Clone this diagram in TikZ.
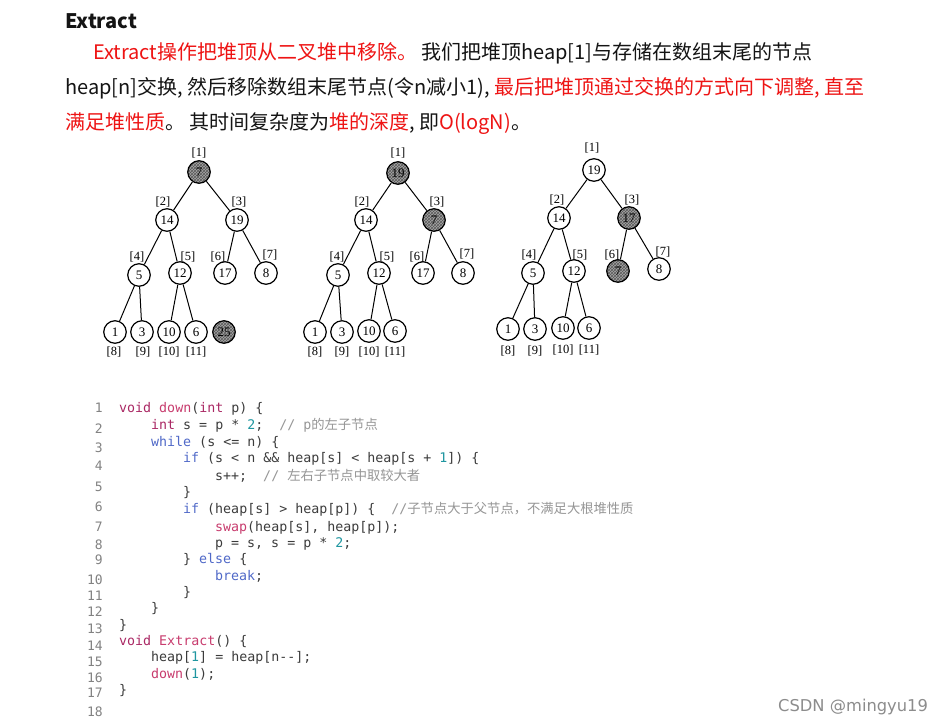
\documentclass[tikz,border=0pt]{standalone}
\usepackage{fontspec}
\setmainfont{Noto Sans CJK SC}
\setmonofont{DejaVu Sans Mono}
\newfontfamily\cjk{Noto Sans CJK SC}
\newfontfamily\treefont{Liberation Serif}
\newfontfamily\wmfont{DejaVu Sans}
\usetikzlibrary{patterns}
\definecolor{txtred}{RGB}{238,20,20}
\definecolor{bodyblack}{RGB}{20,20,20}
\definecolor{codefg}{RGB}{60,60,60}
\definecolor{kwa}{RGB}{170,40,100}
\definecolor{fna}{RGB}{200,60,110}
\definecolor{kwb}{RGB}{80,105,200}
\definecolor{numc}{RGB}{30,150,160}
\definecolor{cmtc}{RGB}{150,150,150}
\definecolor{lnogray}{RGB}{130,130,130}
\newcommand\ckw[1]{\textcolor{kwa}{#1}}
\newcommand\cfn[1]{\textcolor{fna}{#1}}
\newcommand\cbl[1]{\textcolor{kwb}{#1}}
\newcommand\cnum[1]{\textcolor{numc}{#1}}
\newcommand\ccm[1]{\textcolor{cmtc}{#1}}
\newcommand\rd[1]{\textcolor{txtred}{#1}}
\tikzset{
  hn/.style={circle, draw=black, line width=1.2pt, minimum size=22.5pt, inner sep=0pt, font=\treefont\fontsize{13}{13}\selectfont},
  hs/.style={hn, preaction={fill=black!35}, pattern=crosshatch, pattern color=black!65},
  hl/.style={font=\treefont\fontsize{12.5}{13}\selectfont, inner sep=0pt},
  edge/.style={line width=1pt},
  txt/.style={anchor=base west, inner sep=0pt, font=\fontsize{20}{24}\selectfont, text=bodyblack},
  code/.style={anchor=base west, inner sep=0pt, font=\ttfamily\fontsize{13.3}{16}\selectfont, text=codefg},
  lno/.style={anchor=base east, inner sep=0pt, font=\ttfamily\fontsize{13}{16}\selectfont, text=lnogray},
}
\begin{document}
\begin{tikzpicture}[x=1pt,y=-1pt]
\useasboundingbox[fill=white] (0,0) rectangle (945,726);

% ---- text ----
\node[txt] (title) at (65,28) {\bfseries Extract};
\node[txt] (l2) at (93,59) {\rd{Extract操作把堆顶从二叉堆中移除。}\hspace{4pt}我们把堆顶heap[1]与存储在数组末尾的节点};
\node[txt] (l3) at (65,94) {heap[n]交换, 然后移除数组末尾节点(令n减小1), \rd{最后把堆顶通过交换的方式向下调整, 直至}};
\node[txt] (l4) at (65,129) {\rd{满足堆性质}。\hspace{4pt}其时间复杂度为\rd{堆的深度}, 即\rd{O(logN)}。};

% ---- tree 1 ----
\node[hs] (a1) at (199,172) {7};
\node[hn] (a2) at (167,220) {14};
\node[hn] (a3) at (237,220) {19};
\node[hn] (a4) at (139,275) {5};
\node[hn] (a5) at (180,273) {12};
\node[hn] (a6) at (225,273) {17};
\node[hn] (a7) at (266,273) {8};
\node[hn] (a8) at (115,332) {1};
\node[hn] (a9) at (142,332) {3};
\node[hn] (a10) at (169,332) {10};
\node[hn] (a11) at (196,332) {6};
\node[hs] (ax) at (224,332) {25};
\foreach \p/\c in {a1/a2,a1/a3,a2/a4,a2/a5,a3/a6,a3/a7,a4/a8,a4/a9,a5/a10,a5/a11}
  \draw[edge] (\p) -- (\c);
\node[hl] (al1) at (199,153) {[1]};
\node[hl] (al2) at (163,202) {[2]};
\node[hl] (al3) at (239,202) {[3]};
\node[hl] (al4) at (137,257) {[4]};
\node[hl] (al5) at (188,257) {[5]};
\node[hl] (al6) at (218,257) {[6]};
\node[hl] (al7) at (270,255) {[7]};
\node[hl] (al8) at (114,352) {[8]};
\node[hl] (al9) at (143,352) {[9]};
\node[hl] (al10) at (169,352) {[10]};
\node[hl] (al11) at (196,352) {[11]};

% ---- tree 2 ----
\node[hs] (b1) at (398,173) {19};
\node[hn] (b2) at (366,220) {14};
\node[hs] (b3) at (434,220) {7};
\node[hn] (b4) at (338,275) {5};
\node[hn] (b5) at (379,273) {12};
\node[hn] (b6) at (423,273) {17};
\node[hn] (b7) at (463,273) {8};
\node[hn] (b8) at (315,332) {1};
\node[hn] (b9) at (342,332) {3};
\node[hn] (b10) at (369,331) {10};
\node[hn] (b11) at (395,331) {6};
\foreach \p/\c in {b1/b2,b1/b3,b2/b4,b2/b5,b3/b6,b3/b7,b4/b8,b4/b9,b5/b10,b5/b11}
  \draw[edge] (\p) -- (\c);
\node[hl] (bl1) at (398,153) {[1]};
\node[hl] (bl2) at (362,202) {[2]};
\node[hl] (bl3) at (437,202) {[3]};
\node[hl] (bl4) at (337,257) {[4]};
\node[hl] (bl5) at (387,257) {[5]};
\node[hl] (bl6) at (417,257) {[6]};
\node[hl] (bl7) at (467,254) {[7]};
\node[hl] (bl8) at (315,352) {[8]};
\node[hl] (bl9) at (342,352) {[9]};
\node[hl] (bl10) at (369,352) {[10]};
\node[hl] (bl11) at (395,352) {[11]};

% ---- tree 3 ----
\node[hn] (c1) at (594,170) {19};
\node[hn] (c2) at (559,218) {14};
\node[hs] (c3) at (629,218) {17};
\node[hn] (c4) at (533,273) {5};
\node[hn] (c5) at (574,271) {12};
\node[hs] (c6) at (618,271) {7};
\node[hn] (c7) at (659,269) {8};
\node[hn] (c8) at (508,329) {1};
\node[hn] (c9) at (535,329) {3};
\node[hn] (c10) at (563,328) {10};
\node[hn] (c11) at (589,328) {6};
\foreach \p/\c in {c1/c2,c1/c3,c2/c4,c2/c5,c3/c6,c3/c7,c4/c8,c4/c9,c5/c10,c5/c11}
  \draw[edge] (\p) -- (\c);
\node[hl] (cl1) at (592,148) {[1]};
\node[hl] (cl2) at (557,200) {[2]};
\node[hl] (cl3) at (632,200) {[3]};
\node[hl] (cl4) at (529,255) {[4]};
\node[hl] (cl5) at (580,255) {[5]};
\node[hl] (cl6) at (612,255) {[6]};
\node[hl] (cl7) at (663,252) {[7]};
\node[hl] (cl8) at (508,351) {[8]};
\node[hl] (cl9) at (535,351) {[9]};
\node[hl] (cl10) at (563,350) {[10]};
\node[hl] (cl11) at (589,350) {[11]};

% ---- line numbers ----
\foreach \n/\y in {1/408,2/429,3/448,4/466,5/487,6/507,7/527,8/545,9/560,10/580,11/596,12/612,13/629,14/646,15/662,16/678,17/693,18/712}
  \node[lno] (ln\n) at (103,\y+4.7) {\n};

% ---- code ----
\node[code] (k1) at (119,412.5) {\ckw{void}~\cfn{down}(\ckw{int}~p)~\{};
\node[code] (k2) at (151,429.5) {\ckw{int}~s~=~p~*~\cnum{2};~~\ccm{//~p{\cjk 的左子节点}}};
\node[code] (k3) at (151,446.5) {\cbl{while}~(s~<=~n)~\{};
\node[code] (k4) at (183,462.5) {\cbl{if}~(s~<~n~\&\&~heap[s]~<~heap[s~+~\cnum{1}])~\{};
\node[code] (k5) at (215,480.5) {s++;~~\ccm{//~{\cjk 左右子节点中取较大者}}};
\node[code] (k6) at (183,496.5) {\}};
\node[code] (k7) at (183,513.5) {\cbl{if}~(heap[s]~>~heap[p])~\{~~\ccm{//{\cjk 子节点大于父节点，不满足大根堆性质}}};
\node[code] (k8) at (215,531.5) {\cfn{swap}(heap[s],~heap[p]);};
\node[code] (k9) at (215,547.5) {p~=~s,~s~=~p~*~\cnum{2};};
\node[code] (k10) at (183,563.5) {\}~\cbl{else}~\{};
\node[code] (k11) at (215,580.5) {\cbl{break};};
\node[code] (k12) at (183,596.5) {\}};
\node[code] (k13) at (151,612.5) {\}};
\node[code] (k14) at (119,629.5) {\}};
\node[code] (k15) at (119,645.5) {\ckw{void}~\cfn{Extract}()~\{};
\node[code] (k16) at (151,661.5) {heap[\cnum{1}]~=~heap[n-{}-];};
\node[code] (k17) at (151,678.5) {\cfn{down}(\cnum{1});};
\node[code] (k18) at (119,694.5) {\}};

% ---- watermark ----
\node[anchor=base west, inner sep=0pt, font=\wmfont\fontsize{16.3}{17}\selectfont, text=black!45] (wm) at (778,711) {CSDN @mingyu19};
\end{tikzpicture}
\end{document}
